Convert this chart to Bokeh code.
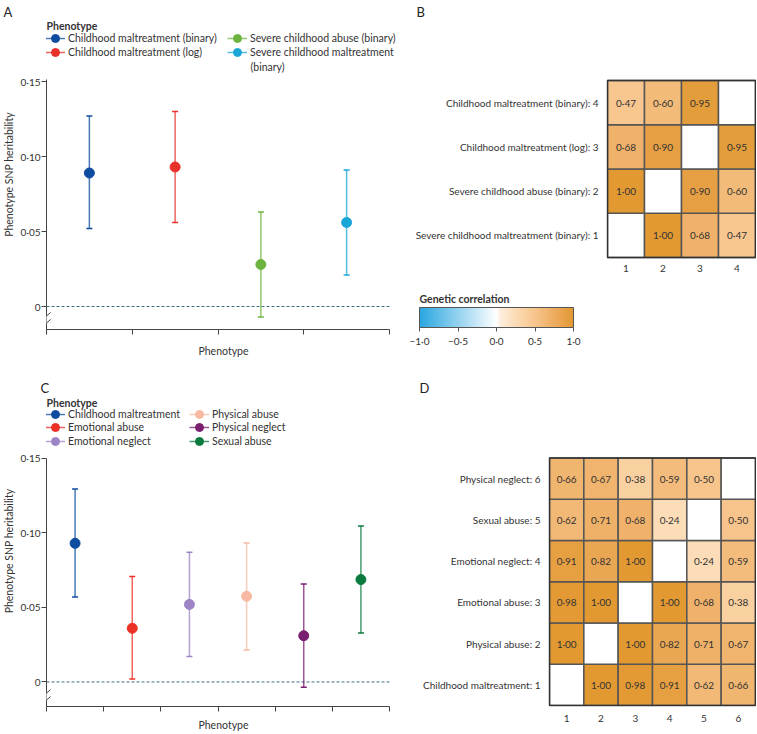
import numpy as np
from bokeh.plotting import figure
from bokeh.models import (ColumnDataSource, FixedTicker, Legend, LegendItem, Label,
                          Arrow, LinearColorMapper, ColorBar, Range1d, Title)
from bokeh.layouts import column, row
from bokeh.embed import file_html
from bokeh.resources import INLINE
from bokeh.core.properties import value
from bokeh.transform import transform

FONT = "Lato"
TXT = "#333333"
AXC = "#444444"

# ---------------- data ----------------
pheno_a = ["Childhood maltreatment (binary)", "Childhood maltreatment (log)",
           "Severe childhood abuse (binary)", "Severe childhood maltreatment (binary)"]
h2_a = [0.089, 0.093, 0.028, 0.056]
lo_a = [0.052, 0.056, -0.007, 0.021]
hi_a = [0.127, 0.130, 0.063, 0.091]
colors_a = ["#0e4c9f", "#e8312b", "#6db33f", "#1aa7d8"]

pheno_c = ["Childhood maltreatment", "Emotional abuse", "Emotional neglect",
           "Physical abuse", "Physical neglect", "Sexual abuse"]
h2_c = [0.093, 0.036, 0.052, 0.0575, 0.031, 0.0687]
lo_c = [0.057, 0.002, 0.017, 0.0215, -0.0036, 0.0329]
hi_c = [0.1295, 0.0707, 0.0871, 0.0933, 0.0658, 0.1047]
colors_c = ["#0e4c9f", "#ec3127", "#9d84c6", "#f8b9a3", "#7a1e6f", "#0b7a3f"]

yticks = [0, 0.05, 0.10, 0.15]
ytick_labels = ["0", "0·05", "0·10", "0·15"]

names_b = ["Severe childhood maltreatment (binary)", "Severe childhood abuse (binary)",
           "Childhood maltreatment (log)", "Childhood maltreatment (binary)"]
corr_b = [
    [None, 1.00, 0.68, 0.47],
    [1.00, None, 0.90, 0.60],
    [0.68, 0.90, None, 0.95],
    [0.47, 0.60, 0.95, None],
]

names_d = ["Childhood maltreatment", "Physical abuse", "Emotional abuse",
           "Emotional neglect", "Sexual abuse", "Physical neglect"]
corr_d = [
    [None, 1.00, 0.98, 0.91, 0.62, 0.66],
    [1.00, None, 1.00, 0.82, 0.71, 0.67],
    [0.98, 1.00, None, 1.00, 0.68, 0.38],
    [0.91, 0.82, 1.00, None, 0.24, 0.59],
    [0.62, 0.71, 0.68, 0.24, None, 0.50],
    [0.66, 0.67, 0.38, 0.59, 0.50, None],
]

cbar_ticks = [-1.0, -0.5, 0.0, 0.5, 1.0]
cbar_labels = ["−1·0", "−0·5", "0·0", "0·5", "1·0"]

# ---------------- colour scale ----------------
stops = [(-1.0, (41, 166, 224)), (0.0, (255, 255, 255)), (0.05, (253, 238, 222)),
         (0.25, (252, 220, 182)), (0.5, (247, 197, 140)), (0.75, (237, 172, 96)),
         (1.0, (226, 153, 50))]


def hexc(rgb):
    return "#%02x%02x%02x" % tuple(int(round(c)) for c in rgb)


palette = []
for k in range(256):
    v = -1 + 2 * k / 255
    for (v0, c0), (v1, c1) in zip(stops[:-1], stops[1:]):
        if v0 <= v <= v1 + 1e-9:
            t = (v - v0) / (v1 - v0)
            palette.append(hexc([a + (b - a) * t for a, b in zip(c0, c1)]))
            break
mapper = LinearColorMapper(palette=palette, low=-1, high=1, nan_color="white")

# ---------------- geometry (page pixel boxes: left, top, width, height) ----------------
PX_PER_UNIT = 1500.0
FIG_A = (0, 0, 400, 365);     FRAME_A = (46, 19, 354, 310);  ZERO_A = 306.0;  AXTOP_A = 79
FIG_B = (400, 0, 356, 365);   FRAME_B = (606, 19, 150, 310)
FIG_C = (0, 365, 400, 368);   FRAME_C = (46, 395, 354, 313); ZERO_C = 683.3;  AXTOP_C = 458
FIG_D = (400, 365, 356, 368); FRAME_D = (548, 395, 208, 313)
AXIS_RIGHT = 389


def make_fig(fig_box, frame_box, x_range, y_range):
    fx, fy, fw, fh = fig_box
    lx, ty, w, h = frame_box
    p = figure(width=fw, height=fh, x_range=x_range, y_range=y_range, title=None,
               output_backend="svg", toolbar_location=None,
               min_border_left=lx - fx, min_border_right=fx + fw - lx - w,
               min_border_top=ty - fy, min_border_bottom=fy + fh - ty - h)
    p.grid.visible = False
    p.background_fill_color = "white"
    p.border_fill_color = "white"
    p.outline_line_color = None
    return p


def to_data(frame_box, xr, yr, ix, iy):
    lx, ty, w, h = frame_box
    return (xr[0] + (ix - lx) / w * (xr[1] - xr[0]),
            yr[1] - (iy - ty) / h * (yr[1] - yr[0]))


def add_label(p, frame_box, xr, yr, ix, iy, text, size="10.5px", bold=False, color=TXT):
    x, y = to_data(frame_box, xr, yr, ix, iy)
    p.add_layout(Label(x=x, y=y, text=text, text_font=FONT, text_font_size=size,
                       text_font_style="bold" if bold else "normal", text_color=color,
                       text_align="left", text_baseline="middle"))


def add_letter(p, frame_box, ix, letter):
    p.add_layout(Title(text=letter, align="left", offset=ix - frame_box[0], standoff=0,
                       text_font=FONT, text_font_size="13px", text_font_style="normal",
                       text_color="#222222"), "above")


def herit_panel(fig_box, frame_box, zero_y, axis_top, names, h2, lo, hi, colors,
                leg_rows, leg_cols_x, title_y, letter, letter_x, xlabel_standoff):
    n = len(names)
    lx, ty, w, h = frame_box
    xr = (0, n * w / (AXIS_RIGHT - lx))
    yr = ((zero_y - (ty + h)) / PX_PER_UNIT, (zero_y - ty) / PX_PER_UNIT)
    p = make_fig(fig_box, frame_box, Range1d(*xr), Range1d(*yr))
    src = ColumnDataSource(dict(x=[i + 0.5 for i in range(n)], h2=h2, lo=lo, hi=hi, color=colors))
    p.segment(x0=[0], y0=[0], x1=[n], y1=[0], line_color="#3f6f80", line_dash="3 2",
              line_width=1, level="underlay")
    seg = p.segment(x0="x", y0="lo", x1="x", y1="hi", source=src, line_color="color",
                    line_width=1.5, line_alpha=0.75)
    for f in ("lo", "hi"):
        p.scatter(x="x", y=f, source=src, marker="dash", size=6, line_color="color", line_width=1.5)
    pts = p.scatter(x="x", y="h2", source=src, size=10, fill_color="color", line_color="color")

    xa = p.xaxis[0]
    xt = list(range(n + 1))
    xa.ticker = FixedTicker(ticks=xt)
    xa.bounds = (0, n)
    xa.major_label_overrides = {t: "" for t in xt}
    xa.major_tick_out = 5
    xa.major_tick_in = 0
    xa.major_label_standoff = 0
    xa.axis_label = "Phenotype"
    xa.axis_label_standoff = xlabel_standoff
    ya = p.yaxis[0]
    ya.ticker = FixedTicker(ticks=yticks)
    ya.major_label_overrides = {t: s for t, s in zip(yticks, ytick_labels)}
    ya.bounds = (yr[0], (zero_y - axis_top) / PX_PER_UNIT)
    ya.major_tick_out = 5
    ya.major_tick_in = 0
    ya.major_label_standoff = 1
    ya.axis_label = "Phenotype SNP heritability"
    ya.axis_label_standoff = 2
    for ax in (xa, ya):
        ax.axis_line_color = AXC
        ax.major_tick_line_color = AXC
        ax.minor_tick_line_color = None
        ax.major_label_text_font = FONT
        ax.major_label_text_color = TXT
        ax.major_label_text_font_size = "10px"
        ax.axis_label_text_font = FONT
        ax.axis_label_text_font_size = "10.5px"
        ax.axis_label_text_font_style = "normal"
        ax.axis_label_text_color = TXT

    # axis break marks
    def line_img(x0, y0, x1, y1, color, width):
        a = to_data(frame_box, xr, yr, x0, y0)
        b = to_data(frame_box, xr, yr, x1, y1)
        p.add_layout(Arrow(end=None, x_start=a[0], y_start=a[1], x_end=b[0], y_end=b[1],
                           line_color=color, line_width=width))
    bot = ty + h
    line_img(lx, bot - 14, lx, bot - 6, "white", 4)
    line_img(lx - 5, bot - 9, lx + 4, bot - 17, AXC, 1)
    line_img(lx - 5, bot - 2, lx + 4, bot - 10, AXC, 1)

    # legend: one single-item legend per row so rows can sit close together
    nrow = len(leg_rows)
    for i in range(n):
        col, r = divmod(i, nrow)
        cy = leg_rows[r]
        item = LegendItem(label=names[i], renderers=[seg, pts], index=i)
        leg = Legend(items=[item], location=(leg_cols_x[col] - lx, bot - (cy + 10)),
                     glyph_width=20, glyph_height=20, label_height=14, label_standoff=3,
                     padding=0, margin=0, border_line_color=None,
                     background_fill_alpha=0, label_text_font=FONT,
                     label_text_font_size="10.5px", label_text_color=TXT)
        p.add_layout(leg)
    add_label(p, frame_box, xr, yr, lx, title_y, "Phenotype", size="10.5px", bold=True)
    add_letter(p, frame_box, letter_x, letter)
    return p, xr, yr


def heat_panel(fig_box, frame_box, names, corr, grid_left, grid_top, cell_w, cell_h,
               letter, letter_x, col_label_y=None):
    n = len(names)
    lx, ty, w, h = frame_box
    x0 = -(grid_left - lx) / cell_w
    xr = (x0, x0 + w / cell_w)
    y1 = n + (grid_top - ty) / cell_h
    yr = (y1 - h / cell_h, y1)
    p = make_fig(fig_box, frame_box, Range1d(*xr), Range1d(*yr))

    cx, cy, rs = [], [], []
    tx, ty_, ts = [], [], []
    for i in range(n):
        for j in range(n):
            v = corr[i][j]
            cx.append(j + 0.5)
            cy.append(i + 0.5)
            rs.append(np.nan if v is None else v)
            if v is not None:
                tx.append(j + 0.5)
                ty_.append(i + 0.5)
                ts.append(f"{v:.2f}".replace(".", "·"))
    src = ColumnDataSource(dict(x=cx, y=cy, r=np.array(rs, dtype=float)))
    tsrc = ColumnDataSource(dict(x=tx, y=ty_, t=ts))
    p.rect(x="x", y="y", width=1, height=1, source=src, fill_color=transform("r", mapper),
           line_color="#555555", line_width=1.5)
    p.text(x="x", y="y", text="t", source=tsrc, text_font=value(FONT), text_font_size="10px",
           text_color=TXT, text_align="center", text_baseline="middle")
    p.rect(x=[n / 2], y=[n / 2], width=n, height=n, fill_color=None,
           line_color="#333333", line_width=1.5)

    rows_lab = [f"{nm}: {i + 1}" for i, nm in enumerate(names)]
    cols_lab = [str(j + 1) for j in range(n)]
    ya = p.yaxis[0]
    ya.ticker = FixedTicker(ticks=[i + 0.5 for i in range(n)])
    ya.major_label_overrides = {i + 0.5: s for i, s in enumerate(rows_lab)}
    ya.major_label_standoff = 8
    xa = p.xaxis[0]
    if col_label_y is None:
        xa.ticker = FixedTicker(ticks=[j + 0.5 for j in range(n)])
        xa.major_label_overrides = {j + 0.5: s for j, s in enumerate(cols_lab)}
        xa.major_label_standoff = 8
    else:
        xa.visible = False
        ly = to_data(frame_box, xr, yr, 0, col_label_y)[1]
        lsrc = ColumnDataSource(dict(x=[j + 0.5 for j in range(n)], y=[ly] * n, t=cols_lab))
        p.text(x="x", y="y", text="t", source=lsrc, text_font=value(FONT), text_font_size="10px",
               text_color=TXT, text_align="center", text_baseline="middle")
    for ax in (xa, ya):
        ax.axis_line_color = None
        ax.major_tick_line_color = None
        ax.minor_tick_line_color = None
        ax.major_tick_out = 0
        ax.major_tick_in = 0
        ax.major_label_text_font = FONT
        ax.major_label_text_font_size = "10px"
        ax.major_label_text_color = TXT
    add_letter(p, frame_box, letter_x, letter)
    return p, xr, yr


pa, xra, yra = herit_panel(FIG_A, FRAME_A, ZERO_A, AXTOP_A, pheno_a, h2_a, lo_a, hi_a, colors_a,
                           [38, 52], [45, 227], 25, "A", 3, 10)
add_label(pa, FRAME_A, xra, yra, 250, 66, "(binary)")
pa.legend[3].items[0].label = value("Severe childhood maltreatment")

pc, _, _ = herit_panel(FIG_C, FRAME_C, ZERO_C, AXTOP_C, pheno_c, h2_c, lo_c, hi_c, colors_c,
                       [415.7, 429.3, 443], [45, 189], 402.3, "C", 40, 7)

pb, _, _ = heat_panel(FIG_B, FRAME_B, names_b, corr_b, 607, 80, 37.0, 44.25,
                      "B", 416, col_label_y=268)
lx, ty, w, h = FRAME_B
cb = ColorBar(color_mapper=mapper, orientation="horizontal", width=154, height=20,
              location=(419 - lx, (ty + h) - 349),
              ticker=FixedTicker(ticks=cbar_ticks),
              major_label_overrides={t: s for t, s in zip(cbar_ticks, cbar_labels)},
              title="Genetic correlation", title_text_font=FONT, title_text_font_size="10.5px",
              title_text_font_style="bold", title_text_color=TXT, title_standoff=5,
              padding=0, margin=0, bar_line_color="#555555", major_tick_line_color="#555555",
              major_tick_out=4, major_tick_in=0, label_standoff=3,
              major_label_text_font=FONT, major_label_text_font_size="10px",
              major_label_text_color=TXT, background_fill_alpha=0, border_line_color=None)
pb.add_layout(cb)

pd, _, _ = heat_panel(FIG_D, FRAME_D, names_d, corr_d, 549, 458, 206 / 6, 249 / 6,
                      "D", 419)

layout = column(row(pa, pb), row(pc, pd))
open("out.html", "w").write(file_html(layout, INLINE))
